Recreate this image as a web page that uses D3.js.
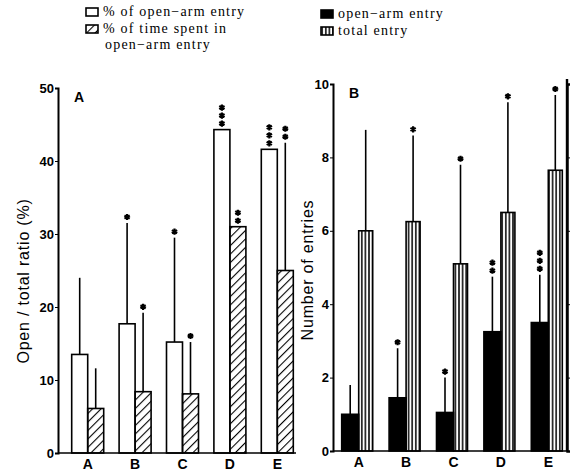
<!DOCTYPE html>
<html>
<head>
<meta charset="utf-8">
<script src="https://cdn.jsdelivr.net/npm/d3@7"></script>
<style>
  body { margin: 0; background: #fff; }
  text { font-family: "Liberation Serif", "DejaVu Serif", serif; fill: #000; }
  .tick text { font-family: "Liberation Sans", Arial, sans-serif; font-weight: bold; font-size: 13px; }
</style>
</head>
<body>
<svg id="chart" width="580" height="472"></svg>
<script>
// data
var groups = ["A", "B", "C", "D", "E"];

// panel A, percentages
var pctOpenEntry = [13.5, 17.7, 15.2, 44.3, 41.6];
var pctOpenEntrySd = [10.5, 13.8, 14.3, 0, 0];
var pctOpenEntryStars = ["", "*", "*", "***", "***"];
var pctOpenTime = [6.1, 8.4, 8.1, 31.0, 25.0];
var pctOpenTimeSd = [5.5, 10.8, 7.1, 0, 17.5];
var pctOpenTimeStars = ["", "*", "*", "**", "**"];
var ticksA = [0, 10, 20, 30, 40, 50];

// panel B, counts
var openArm = [1.0, 1.45, 1.05, 3.25, 3.5];
var openArmSd = [0.8, 1.35, 0.95, 1.5, 1.3];
var openArmStars = ["", "*", "*", "**", "***"];
var totalEntry = [6.0, 6.25, 5.1, 6.5, 7.65];
var totalEntrySd = [2.75, 2.35, 2.7, 3.0, 2.05];
var totalEntryStars = ["", "*", "*", "*", "*"];
var ticksB = [0, 2, 4, 6, 8, 10];

var svg = d3.select("#chart");

// fill patterns
var defs = svg.append("defs");
defs.append("pattern")
    .attr("id", "hatch")
    .attr("patternUnits", "userSpaceOnUse")
    .attr("width", 6).attr("height", 6)
    .attr("patternTransform", "rotate(45)")
  .append("line")
    .attr("x1", 0).attr("y1", 0).attr("x2", 0).attr("y2", 6)
    .attr("stroke", "#000").attr("stroke-width", 2.2);
defs.append("pattern")
    .attr("id", "stripes")
    .attr("patternUnits", "userSpaceOnUse")
    .attr("width", 3.6).attr("height", 10)
  .append("line")
    .attr("x1", 1.8).attr("y1", 0).attr("x2", 1.8).attr("y2", 10)
    .attr("stroke", "#000").attr("stroke-width", 1.5);

var star = d3.symbol().type(d3.symbolAsterisk).size(26);

// draws one panel of paired bars
var drawPanel = function(cfg) {
  var x = d3.scaleBand().domain(groups).range(cfg.xRange);
  var y = d3.scaleLinear().domain(cfg.yDomain).range(cfg.yRange);
  var g = svg.append("g");

  cfg.series.forEach(function(s, si) {
    var bw = s.width;
    var bars = g.append("g").selectAll("g")
        .data(groups)
      .enter().append("g");

    var bx = function(d) {
      var c = x(d) + x.bandwidth() / 2;
      return si === 0 ? c - bw : c;
    };

    // error bar, upper half only
    bars.append("line")
        .attr("x1", function(d) { return bx(d) + bw / 2; })
        .attr("x2", function(d) { return bx(d) + bw / 2; })
        .attr("y1", function(d, i) { return y(s.values[i]); })
        .attr("y2", function(d, i) { return y(s.values[i] + s.sd[i]); })
        .attr("stroke", "#000").attr("stroke-width", 1.6);

    bars.append("rect")
        .attr("x", bx)
        .attr("y", function(d, i) { return y(s.values[i]); })
        .attr("width", bw)
        .attr("height", function(d, i) { return y(0) - y(s.values[i]); })
        .attr("fill", s.fill)
        .attr("stroke", "#000").attr("stroke-width", 1.6);

    // significance stars, stacked upwards
    bars.each(function(d, i) {
      var n = s.stars[i].length;
      var top = y(s.values[i] + s.sd[i]);
      for (var k = 0; k < n; k++) {
        d3.select(this).append("path")
            .attr("d", star)
            .attr("transform", "translate(" + (bx(d) + bw / 2) + "," + (top - 6 - k * 8) + ")")
            .attr("stroke", "#000").attr("stroke-width", 2.2);
      }
    });
  });

  // axes
  g.append("g")
      .attr("transform", "translate(" + cfg.axisX + ",0)")
      .call(d3.axisLeft(y).tickValues(cfg.ticks).tickSize(3).tickPadding(1))
      .call(function(a) { a.select(".domain").attr("stroke-width", 2); });
  g.append("line")
      .attr("x1", cfg.axisX).attr("x2", cfg.xEnd)
      .attr("y1", y(0)).attr("y2", y(0))
      .attr("stroke", "#000").attr("stroke-width", 1.6);

  groups.forEach(function(d) {
    g.append("text")
        .attr("x", x(d) + x.bandwidth() / 2)
        .attr("y", y(0) + 16)
        .attr("text-anchor", "middle")
        .style("font-family", "Liberation Sans, Arial, sans-serif")
        .style("font-weight", "bold")
        .style("font-size", "14px")
        .text(d);
  });

  g.append("text")
      .attr("x", cfg.axisX + 16).attr("y", y(cfg.yDomain[1]) + 14)
      .style("font-family", "Liberation Sans, Arial, sans-serif")
      .style("font-weight", "bold")
      .style("font-size", "14px")
      .text(cfg.letter);

  g.append("text")
      .attr("transform", "translate(" + cfg.titleX + "," + cfg.titleY + ") rotate(-90)")
      .attr("text-anchor", "middle")
      .style("font-family", "Liberation Sans, Arial, sans-serif")
      .style("font-size", "16px")
      .style("letter-spacing", "0.8px")
      .text(cfg.title);

  return {x: x, y: y};
};

drawPanel({
  xRange: [64, 301], yDomain: [0, 50], yRange: [453, 88],
  axisX: 58, xEnd: 296, ticks: ticksA, letter: "A",
  title: "Open / total ratio (%)", titleX: 29, titleY: 281,
  series: [
    {values: pctOpenEntry, sd: pctOpenEntrySd, stars: pctOpenEntryStars, fill: "#fff", width: 16},
    {values: pctOpenTime, sd: pctOpenTimeSd, stars: pctOpenTimeStars, fill: "url(#hatch)", width: 16}
  ]
});

var pB = drawPanel({
  xRange: [335, 572], yDomain: [0, 10], yRange: [451, 84],
  axisX: 333, xEnd: 567, ticks: ticksB, letter: "B",
  title: "Number of entries", titleX: 313, titleY: 270,
  series: [
    {values: openArm, sd: openArmSd, stars: openArmStars, fill: "#000", width: 17},
    {values: totalEntry, sd: totalEntrySd, stars: totalEntryStars, fill: "url(#stripes)", width: 14}
  ]
});

// right-hand frame line of panel B
svg.append("g")
    .attr("transform", "translate(567,0)")
    .call(d3.axisRight(pB.y).tickValues(ticksB).tickSize(3).tickFormat(""))
    .call(function(a) { a.select(".domain").attr("stroke-width", 2.4); });
svg.append("line")
    .attr("x1", 567).attr("x2", 567).attr("y1", 79).attr("y2", 451)
    .attr("stroke", "#000").attr("stroke-width", 2.4);

// legend
var legendItems = [
  {x: 86, y: 8, fill: "#fff", lines: ["% of open\u2212arm entry"]},
  {x: 86, y: 25, fill: "url(#hatch)", lines: ["% of time spent in", "open\u2212arm entry"]},
  {x: 321, y: 10, fill: "#000", lines: ["open\u2212arm entry"]},
  {x: 321, y: 27, fill: "url(#stripes)", lines: ["total entry"]}
];
var leg = svg.append("g").selectAll("g")
    .data(legendItems)
  .enter().append("g");
leg.append("rect")
    .attr("x", function(d) { return d.x; })
    .attr("y", function(d) { return d.y; })
    .attr("width", 12).attr("height", 8)
    .attr("fill", function(d) { return d.fill; })
    .attr("stroke", "#000").attr("stroke-width", 1.6);
leg.each(function(d) {
  var t = d3.select(this).append("text")
      .attr("y", d.y + 8)
      .style("font-size", "14px")
      .style("letter-spacing", "1.2px");
  d.lines.forEach(function(l, i) {
    t.append("tspan")
        .attr("x", d.x + (i === 0 ? 17 : 19))
        .attr("dy", i === 0 ? 0 : 16)
        .text(l);
  });
});
</script>
</body>
</html>
